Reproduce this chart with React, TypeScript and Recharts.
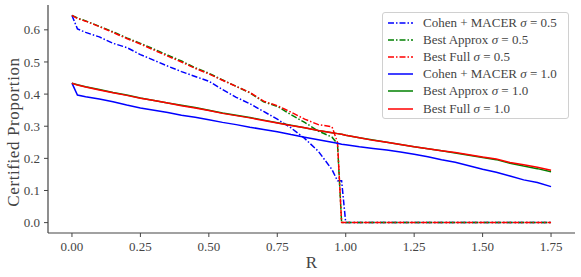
import React from 'react'
import { LineChart, Line, XAxis, YAxis, Legend } from 'recharts'

const FONT = '"Liberation Serif", "DejaVu Serif", serif'
const INK = '#444'

// R values (x axis)
const radius = [
    0, 0.02, 0.05, 0.1, 0.15, 0.2, 0.25, 0.3, 0.35, 0.4, 0.45, 0.5, 0.55, 0.6, 0.65, 0.7, 0.75, 0.8, 0.85,
    0.9, 0.95, 0.97, 0.985, 1.0, 1.05, 1.1, 1.15, 1.2, 1.25, 1.3, 1.35, 1.4, 1.45, 1.5, 1.55, 1.6, 1.65,
    1.7, 1.75,
]

const cohen05 = [
    0.645, 0.603, 0.592, 0.578, 0.558, 0.545, 0.523, 0.505, 0.487, 0.47, 0.455, 0.44, 0.414, 0.39, 0.37,
    0.346, 0.322, 0.295, 0.262, 0.222, 0.165, 0.13, 0.13, 0, 0, 0, 0, 0, 0, 0, 0, 0, 0, 0, 0, 0, 0, 0, 0,
]
const approx05 = [
    0.645, 0.637, 0.628, 0.611, 0.594, 0.575, 0.558, 0.54, 0.521, 0.503, 0.482, 0.465, 0.444, 0.424,
    0.404, 0.376, 0.362, 0.336, 0.312, 0.285, 0.266, 0.245, 0, 0, 0, 0, 0, 0, 0, 0, 0, 0, 0, 0, 0, 0, 0, 0, 0,
]
const full05 = [
    0.645, 0.635, 0.627, 0.61, 0.592, 0.573, 0.556, 0.537, 0.518, 0.5, 0.48, 0.463, 0.443, 0.424, 0.405,
    0.378, 0.364, 0.344, 0.322, 0.305, 0.298, 0.25, 0, 0, 0, 0, 0, 0, 0, 0, 0, 0, 0, 0, 0, 0, 0, 0, 0,
]
const cohen10 = [
    0.434, 0.397, 0.392, 0.385, 0.376, 0.366, 0.357, 0.35, 0.343, 0.334, 0.328, 0.32, 0.312, 0.305, 0.297,
    0.29, 0.283, 0.274, 0.266, 0.258, 0.25, 0.247, 0.244, 0.242, 0.236, 0.231, 0.226, 0.22, 0.213, 0.205,
    0.196, 0.188, 0.177, 0.166, 0.157, 0.145, 0.133, 0.125, 0.112,
]
const approx10 = [
    0.434, 0.429, 0.423, 0.414, 0.405, 0.397, 0.388, 0.38, 0.372, 0.365, 0.358, 0.35, 0.341, 0.334, 0.327,
    0.319, 0.311, 0.303, 0.295, 0.287, 0.28, 0.277, 0.275, 0.272, 0.264, 0.257, 0.25, 0.243, 0.236, 0.23,
    0.224, 0.217, 0.21, 0.203, 0.196, 0.185, 0.176, 0.168, 0.158,
]
const full10 = [
    0.434, 0.428, 0.422, 0.413, 0.404, 0.396, 0.387, 0.38, 0.372, 0.364, 0.357, 0.349, 0.34, 0.333, 0.326,
    0.318, 0.31, 0.302, 0.295, 0.287, 0.28, 0.277, 0.275, 0.272, 0.264, 0.256, 0.25, 0.243, 0.236, 0.23,
    0.224, 0.218, 0.211, 0.204, 0.198, 0.187, 0.18, 0.172, 0.163,
]

const xTicks = [0, 0.25, 0.5, 0.75, 1.0, 1.25, 1.5, 1.75]
const yTicks = [0, 0.1, 0.2, 0.3, 0.4, 0.5, 0.6]

const SERIES = [
    { key: 'cohen05', label: 'Cohen + MACER', sigma: '0.5', color: '#0000ff', dashed: true, values: cohen05 },
    { key: 'approx05', label: 'Best Approx', sigma: '0.5', color: '#008000', dashed: true, values: approx05 },
    { key: 'full05', label: 'Best Full', sigma: '0.5', color: '#ff0000', dashed: true, values: full05 },
    { key: 'cohen10', label: 'Cohen + MACER', sigma: '1.0', color: '#0000ff', dashed: false, values: cohen10 },
    { key: 'approx10', label: 'Best Approx', sigma: '1.0', color: '#008000', dashed: false, values: approx10 },
    { key: 'full10', label: 'Best Full', sigma: '1.0', color: '#ff0000', dashed: false, values: full10 },
]

const DASH = '6 2 1.5 2'

const data = radius.map((r, i) => {
    const row: Record<string, number> = { r }
    SERIES.forEach((s) => {
        row[s.key] = s.values[i]
    })
    return row
})

// matplotlib-style legend box
const LegendBox = () => (
    <div
        style={{
            border: '1px solid #d0d0d0',
            borderRadius: 3,
            background: 'rgba(255,255,255,0.85)',
            padding: '1px 0',
            fontFamily: FONT,
            fontSize: 13,
            color: INK,
        }}
    >
        {SERIES.map((s) => (
            <div key={s.key} style={{ display: 'flex', alignItems: 'center', height: 17.2 }}>
                <svg width={40} height={10} style={{ flex: 'none' }}>
                    <line
                        x1={5}
                        x2={30}
                        y1={5}
                        y2={5}
                        stroke={s.color}
                        strokeWidth={1.5}
                        strokeDasharray={s.dashed ? DASH : undefined}
                    />
                </svg>
                <span style={{ whiteSpace: 'nowrap' }}>
                    {s.label} <i>σ</i> = {s.sigma}
                </span>
            </div>
        ))}
    </div>
)

const YLabel = () => (
    <text
        x={13}
        y={132}
        transform="rotate(-90 13 132)"
        textAnchor="middle"
        dominantBaseline="central"
        fill={INK}
        style={{ fontFamily: FONT, fontSize: 17, letterSpacing: 0.6 }}
    >
        Certified Proportion
    </text>
)

const XLabel = () => (
    <text
        x={311.5}
        y={262}
        textAnchor="middle"
        dominantBaseline="central"
        fill={INK}
        style={{ fontFamily: FONT, fontSize: 17 }}
    >
        R
    </text>
)

export default function App() {
    const tickStyle = { fill: INK, fontSize: 13, fontFamily: FONT }
    return (
        <div style={{ position: 'absolute', left: 0, top: 0, width: 581, height: 277, background: '#fff' }}>
            <LineChart width={581} height={277} data={data} margin={{ top: 5, right: 6, bottom: 0, left: 0 }}>
                <XAxis
                    dataKey="r"
                    type="number"
                    domain={[-0.0875, 1.8375]}
                    allowDataOverflow
                    ticks={xTicks}
                    tickFormatter={(v: number) => v.toFixed(2)}
                    tick={tickStyle}
                    tickSize={4}
                    tickMargin={5}
                    axisLine={{ stroke: '#444', strokeWidth: 1.2 }}
                    tickLine={{ stroke: '#444' }}
                    height={44}
                    label={<XLabel />}
                />
                <XAxis
                    xAxisId="top"
                    orientation="top"
                    dataKey="r"
                    type="number"
                    domain={[-0.0875, 1.8375]}
                    allowDataOverflow
                    tick={false}
                    tickLine={false}
                    axisLine={{ stroke: '#444', strokeWidth: 1.2 }}
                    height={0}
                />
                <YAxis
                    type="number"
                    domain={[-0.0323, 0.6773]}
                    allowDataOverflow
                    ticks={yTicks}
                    tickFormatter={(v: number) => v.toFixed(1)}
                    tick={tickStyle}
                    tickSize={4}
                    tickMargin={4}
                    axisLine={{ stroke: '#444', strokeWidth: 1.2 }}
                    tickLine={{ stroke: '#444' }}
                    width={48}
                    label={<YLabel />}
                />
                <YAxis
                    yAxisId="right"
                    orientation="right"
                    domain={[-0.0323, 0.6773]}
                    allowDataOverflow
                    tick={false}
                    tickLine={false}
                    axisLine={{ stroke: '#444', strokeWidth: 1.2 }}
                    width={0}
                />
                {SERIES.map((s) => (
                    <Line
                        key={s.key}
                        dataKey={s.key}
                        type="linear"
                        stroke={s.color}
                        strokeWidth={1.5}
                        strokeDasharray={s.dashed ? DASH : undefined}
                        dot={false}
                        activeDot={false}
                        isAnimationActive={false}
                    />
                ))}
                <Legend
                    layout="vertical"
                    align="center"
                    verticalAlign="middle"
                    content={<LegendBox />}
                    wrapperStyle={{ left: 382, top: 12, width: 187, right: 'auto', bottom: 'auto' }}
                />
            </LineChart>
        </div>
    )
}
